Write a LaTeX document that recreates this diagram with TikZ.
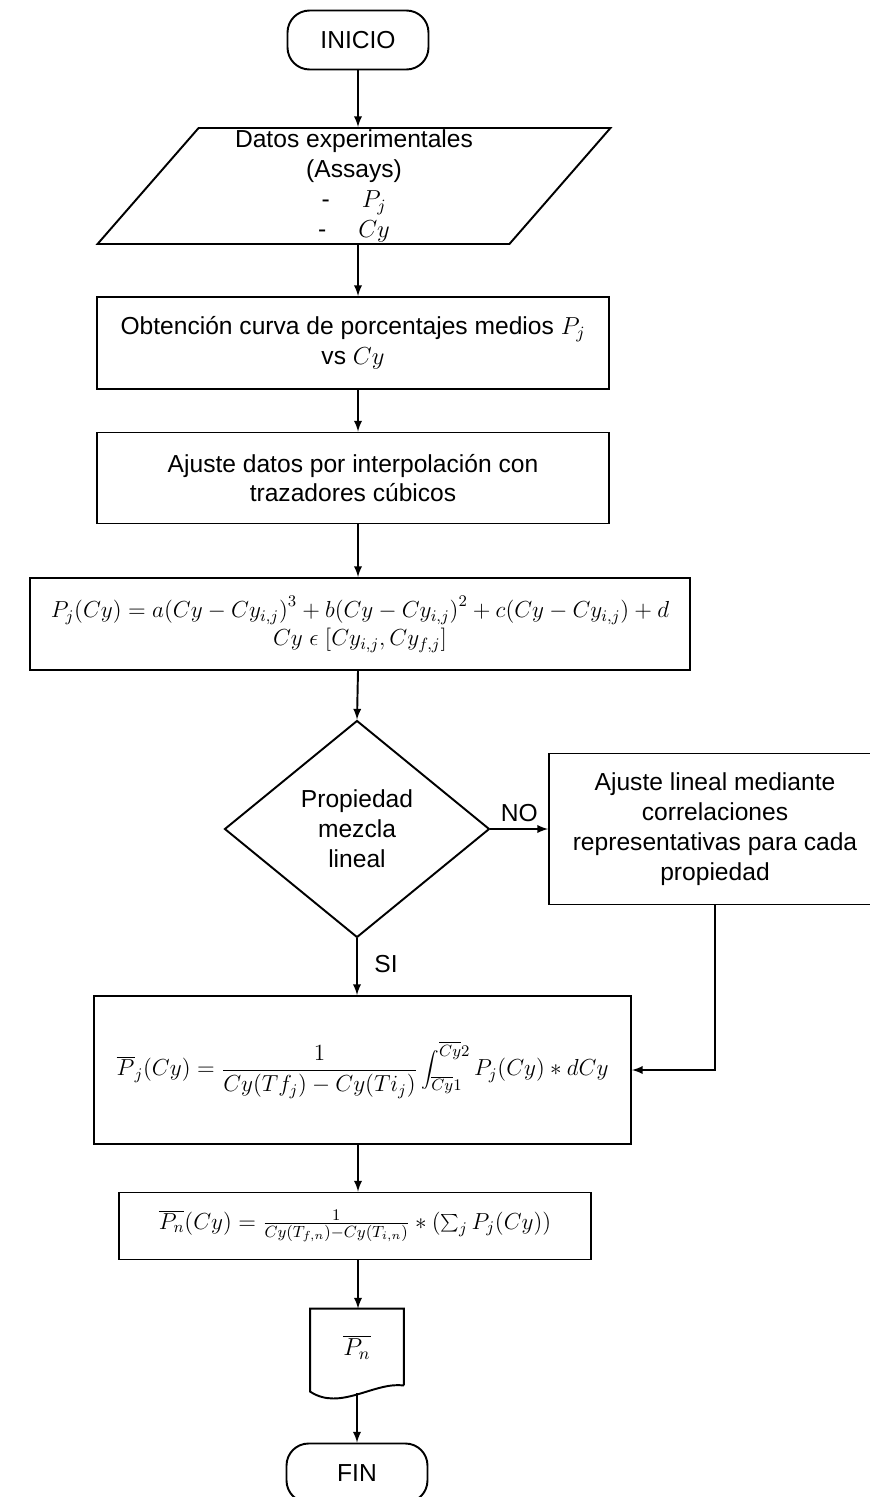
\documentclass[tikz,border=0pt]{standalone}
\usepackage{fix-cm}
\usepackage[no-math]{fontspec}
\setmainfont{Liberation Sans}
\usetikzlibrary{shapes,arrows}
\tikzstyle{terminal} = [draw, rectangle, rounded corners=0.44cm, minimum width=2.82cm, minimum height=1.18cm]
\tikzstyle{dataio} = [draw, trapezium, trapezium left angle=48, trapezium right angle=132, trapezium stretches body, minimum width=10.26cm, minimum height=2.32cm, align=center, inner sep=0pt]
\tikzstyle{block} = [draw, rectangle, align=center, inner sep=0pt]
\tikzstyle{formula} = [block, font=\fontsize{13.2}{16}\selectfont]
\tikzstyle{decision} = [draw, diamond, aspect=1.22, minimum width=5.3cm, minimum height=4.34cm, align=center, inner sep=0pt]
\tikzstyle{docbox} = [rectangle, minimum width=1.84cm, minimum height=1.5cm]

\begin{document}
\begin{tikzpicture}[x=0.02cm,y=-0.02cm,>=latex,line width=1.1pt,
	every node/.style={font=\fontsize{14}{17}\selectfont}]
	\useasboundingbox (0,0) rectangle (869,1497);
	\coordinate (axis) at (358,0);

	% put the nodes of the main column where we want them
	\node [terminal] (inicio) at (358,40) {INICIO};
	\node [dataio] (datos) at (354,186) {Datos experimentales\\(Assays)\\-\hspace{1.3em}$P_j$\\-\hspace{1.3em}$Cy$};
	\node [block,minimum width=10.26cm,minimum height=1.84cm] (curva) at (353,343) {Obtención curva de porcentajes medios $P_j$\\vs $Cy$};
	\node [block,minimum width=10.26cm,minimum height=1.82cm] (ajuste) at (353,478) {Ajuste datos por interpolación con\\trazadores cúbicos};
	\node [formula,minimum width=13.2cm,minimum height=1.84cm] (spline) at (360,624) {$P_j(Cy)=a\bigl(Cy-Cy_{i,j}\bigr)^3+b\bigl(Cy-Cy_{i,j}\bigr)^2+c\bigl(Cy-Cy_{i,j}\bigr)+d$\\$Cy\;\epsilon\;[Cy_{i,j},Cy_{f,j}]$};
	\node [decision] (mezcla) at (357,829) {Propiedad\\mezcla\\lineal};
	\node [block,minimum width=6.64cm,minimum height=3.02cm] (correl) at (715,829) {Ajuste lineal mediante\\correlaciones\\representativas para cada\\propiedad};
	\node [formula,anchor=east,minimum width=10.74cm,minimum height=2.96cm] (media) at (632,1070) {$\displaystyle \overline{P}_j(Cy)=\frac{1}{Cy(Tf_j)-Cy(Ti_j)}\int_{\overline{Cy}1}^{\overline{Cy}2}P_j(Cy)*dCy$};
	\node [formula,anchor=east,minimum width=9.44cm,minimum height=1.34cm] (mezclan) at (592,1226) {$\overline{P_n}(Cy)=\frac{1}{Cy(T_{f,n})-Cy(T_{i,n})}*\bigl(\sum_j P_j(Cy)\bigr)$};
	\node [docbox] (res) at (357,1347) {$\overline{P_n}$};
	\node [terminal] (fin) at (357,1473) {FIN};

	% the document outline with its wavy bottom
	\draw (res.south east) -- (res.north east) -- (res.north west) -- ++(0,83) .. controls +(30,20) and +(-30,-4) .. (res.south east);

	% draw the main flow
	\draw [->] (inicio.south) -- (datos.north -| inicio.south);
	\draw [->] (datos.south -| axis) -- (curva.north -| axis);
	\draw [->] (curva.south -| axis) -- (ajuste.north -| axis);
	\draw [->] (ajuste.south -| axis) -- (spline.north -| axis);
	\draw [->] (spline.south -| axis) -- (mezcla.north);
	\draw [->] (mezcla.south) -- node[right,xshift=6pt,pos=0.45] {SI} (mezcla.south |- media.north);
	\draw [->] (media.south -| axis) -- (mezclan.north -| axis);
	\draw [->] (mezclan.south -| axis) -- (res.north -| axis);
	\draw [->] ([yshift=-4.5pt]res.south) -- (fin.north);

	% NO branch and its return
	\draw [->] (mezcla.east) -- node[above] {NO} (correl.west);
	\draw [->] (correl.south) |- (media.east);

\end{tikzpicture}
\end{document}
